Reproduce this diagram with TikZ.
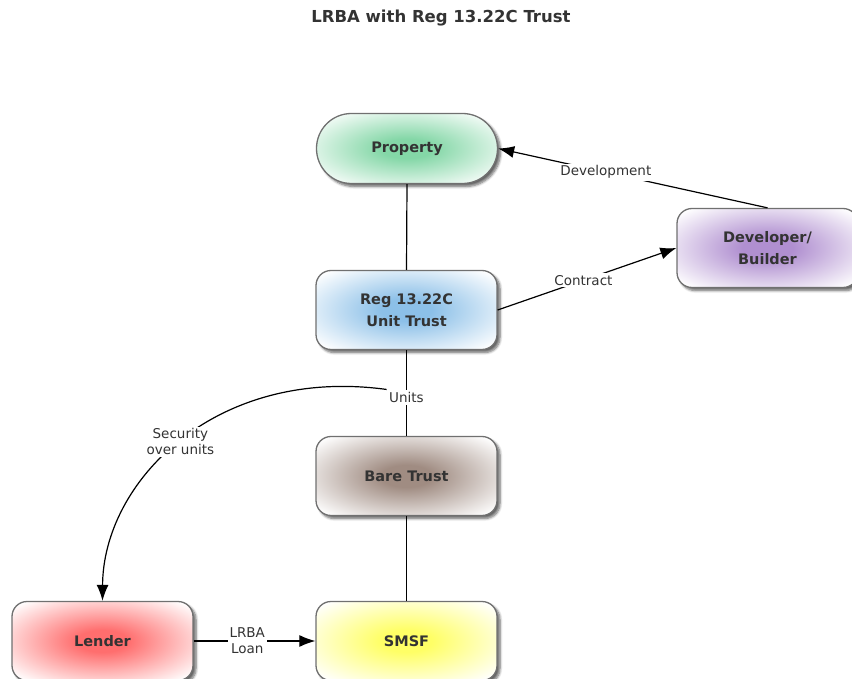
\documentclass[tikz,border=0pt]{standalone}
\usepackage{fontspec}
\setmainfont{DejaVu Sans}
\usetikzlibrary{shadows.blur,arrows.meta}

\definecolor{txt}{HTML}{333333}
\definecolor{rim}{HTML}{707070}
\definecolor{propc}{HTML}{84D7A7}
\definecolor{regc}{HTML}{8CC0E8}
\definecolor{barec}{HTML}{A08C82}
\definecolor{devc}{HTML}{B08FD0}
\definecolor{lenderc}{HTML}{FF6E6E}
\definecolor{smsfc}{HTML}{FFFF66}

% soft radial glow: solid colour in the middle, white towards the rim
\newcommand\glowshading[2]{%
  \pgfdeclareradialshading{#1}{\pgfpointorigin}{%
    color(0bp)=(#2); color(7bp)=(#2); color(33bp)=(white); color(50bp)=(white)}}
\glowshading{propglow}{propc}
\glowshading{regglow}{regc}
\glowshading{bareglow}{barec}
\glowshading{devglow}{devc}
\glowshading{lenderglow}{lenderc}
\glowshading{smsfglow}{smsfc}

\begin{document}
\begin{tikzpicture}[x=1pt,y=-1pt,
  box/.style={draw=rim, line width=1.3pt, rounded corners=15pt,
    minimum width=181pt, minimum height=79pt, inner sep=0pt,
    align=center, text=txt, font=\fontsize{14.5}{22}\selectfont\bfseries,
    blur shadow={shadow xshift=3pt, shadow yshift=-3pt,
      shadow blur radius=2.5pt, shadow blur steps=6, shadow opacity=60}},
  conn/.style={line width=1.2pt, draw=black},
  arr/.style={conn, -{Latex[length=16pt,width=12pt]}},
  lbl/.style={fill=white, text=txt, inner sep=2pt,
    font=\fontsize{13.5}{16}\selectfont, align=center}]

\useasboundingbox (0,0) rectangle (852,679);

% title
\node[font=\fontsize{16.5}{20}\selectfont\bfseries, text=txt] (title) at (441,18.5)
  {LRBA with Reg 13.22C Trust};

% parties
\node[box, shading=propglow, minimum height=70pt, rounded corners=34.9pt] (prop) at (407,148.5) {Property};
\node[box, shading=regglow] (reg) at (406.5,310) {Reg 13.22C\\Unit Trust};
\node[box, shading=bareglow] (bare) at (406.5,476) {Bare Trust};
\node[box, shading=smsfglow] (smsf) at (406.5,641) {SMSF};
\node[box, shading=lenderglow] (lender) at (102.5,641) {Lender};
\node[box, shading=devglow] (dev) at (767.5,248) {Developer/\\Builder};

% relationships
\draw[conn] (prop.south) -- (reg.north);
\draw[conn] (reg.south) -- node[lbl, pos=0.55] (units) {Units} (bare.north);
\draw[conn] (bare.south) -- (smsf.north);
\draw[arr] (lender.east) -- node[lbl, pos=0.44] (loan) {LRBA\\Loan} (smsf.west);
\draw[arr] (reg.east) -- node[lbl, pos=0.48] (contract) {Contract} (dev.west);
\draw[arr] (dev.north) -- node[lbl, pos=0.6] (devlbl) {Development} (prop.east);
\draw[arr] (units.north west) .. controls (215,366) and (103,482) ..
  node[lbl, pos=0.5] (security) {Security\\over units} (lender.north);

\end{tikzpicture}
\end{document}
